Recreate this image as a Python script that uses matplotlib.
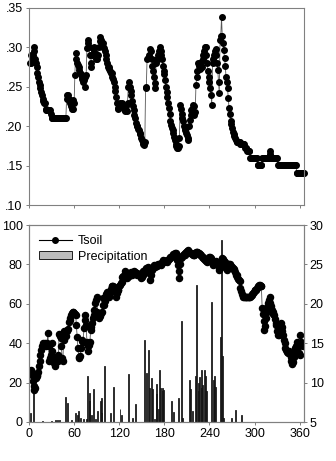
import matplotlib.pyplot as plt
import numpy as np
from matplotlib.patches import Patch
from matplotlib.lines import Line2D

plt.rcParams['font.family'] = ['Liberation Sans', 'DejaVu Sans']
plt.rcParams['font.size'] = 9

# day of year 1..365
days = np.arange(1, 366)

# soil water content (top panel), read per day
swc = [
    .280, .280, .290, .285, .290, .300, .295, .285, .280, .275,
    .268, .262, .256, .252, .248, .244, .240, .235, .232, .229,
    .229, .222, .220, .220, .220, .220, .220, .220, .215, .210,
    .210, .210, .210, .210, .210, .210, .210, .210, .210, .210,
    .210, .210, .210, .210, .210, .210, .210, .210, .210, .235,
    .240, .240, .235, .232, .229, .225, .222, .222, .233, .230,
    .265, .293, .285, .280, .278, .275, .271, .268, .266, .262,
    .260, .256, .258, .262, .250, .265, .299, .305, .309, .300,
    .290, .275, .280, .290, .299, .300, .295, .290, .285, .290,
    .285, .290, .300, .308, .313, .310, .306, .305, .300, .299,
    .295, .290, .285, .280, .275, .275, .272, .270, .268, .268,
    .262, .260, .256, .250, .245, .237, .229, .222, .223, .228,
    .230, .228, .230, .228, .225, .222, .219, .221, .226, .219,
    .230, .250, .256, .250, .245, .240, .232, .226, .220, .214,
    .210, .204, .200, .200, .197, .195, .192, .190, .185, .182,
    .180, .178, .176, .180, .248, .250, .285, .286, .288, .290,
    .298, .295, .285, .277, .270, .262, .255, .248, .280, .285,
    .290, .285, .295, .301, .295, .290, .285, .277, .270, .266,
    .258, .250, .244, .237, .230, .223, .215, .206, .202, .198,
    .195, .191, .186, .182, .178, .175, .172, .172, .175, .185,
    .227, .222, .215, .210, .206, .200, .198, .195, .191, .189,
    .185, .182, .200, .208, .214, .220, .222, .227, .225, .214,
    .218, .252, .262, .270, .280, .276, .272, .278, .282, .275,
    .285, .290, .295, .301, .300, .290, .280, .270, .262, .256,
    .248, .240, .227, .280, .285, .290, .295, .298, .290, .280,
    .271, .256, .242, .309, .315, .338, .314, .305, .297, .286,
    .277, .262, .256, .248, .236, .223, .215, .206, .203, .198,
    .193, .190, .187, .185, .182, .180, .180, .180, .180, .180,
    .177, .177, .177, .177, .177, .177, .172, .172, .172, .168,
    .168, .168, .168, .160, .160, .160, .160, .160, .160, .160,
    .160, .160, .160, .151, .151, .151, .151, .151, .151, .160,
    .160, .160, .160, .160, .160, .160, .160, .160, .160, .168,
    .165, .160, .160, .160, .160, .160, .160, .160, .160, .160,
    .151, .151, .151, .151, .151, .151, .151, .151, .151, .151,
    .151, .151, .151, .151, .151, .151, .151, .151, .151, .151,
    .151, .151, .151, .151, .151, .141, .141, .141, .141, .141,
    .141, .141, .141, .141, .141,
]

# soil temperature (right axis, bottom panel)
tsoil = [
    11.4, 11.5, 11.6, 11.0, 10.2, 9.6, 9.1, 9.3, 10.6, 10.8,
    11.0, 11.4, 12.1, 12.7, 13.5, 14.2, 14.6, 14.8, 15.0, 14.8,
    15.0, 14.9, 14.7, 15.0, 16.3, 14.7, 12.7, 13.1, 13.5, 14.0,
    15.0, 13.1, 12.5, 12.3, 12.1, 12.8, 13.1, 13.5, 12.7, 16.2,
    15.9, 15.6, 14.6, 13.1, 12.7, 15.4, 16.5, 16.0, 15.9, 16.5,
    16.7, 16.8, 17.7, 18.0, 18.2, 18.6, 18.8, 19.0, 18.9, 18.8,
    18.7, 18.6, 17.3, 15.8, 14.4, 13.3, 13.1, 13.4, 14.4, 15.4,
    15.3, 15.2, 16.9, 18.6, 18.0, 17.3, 15.2, 14.6, 14.0, 14.8,
    15.2, 16.7, 17.1, 17.6, 18.2, 18.6, 19.2, 20.1, 20.5, 20.9,
    19.0, 18.4, 18.2, 18.4, 18.6, 18.8, 19.0, 19.8, 20.7, 19.9,
    20.3, 20.9, 21.2, 21.5, 21.0, 20.9, 21.2, 21.6, 21.9, 22.2,
    22.2, 22.2, 22.1, 22.0, 21.5, 20.9, 21.4, 21.7, 21.8, 22.2,
    22.4, 22.6, 22.8, 23.4, 23.5, 23.3, 23.8, 24.1, 23.9, 23.3,
    23.7, 23.9, 23.5, 23.7, 24.0, 23.8, 23.6, 24.0, 24.1, 23.9,
    24.0, 23.8, 23.9, 23.7, 23.8, 23.7, 23.7, 23.6, 23.3, 23.4,
    23.7, 24.1, 24.2, 24.3, 24.4, 24.5, 24.4, 24.7, 24.6, 23.9,
    23.0, 23.6, 24.3, 24.6, 24.5, 24.9, 24.8, 24.7, 24.9, 24.8,
    24.9, 25.0, 25.1, 25.1, 24.9, 25.0, 25.3, 25.6, 25.4, 25.3,
    25.4, 25.4, 25.3, 25.5, 25.6, 25.7, 25.8, 25.9, 26.0, 26.1,
    26.2, 26.3, 26.1, 26.4, 26.4, 26.2, 25.5, 24.9, 23.3, 24.1,
    25.0, 25.8, 26.0, 26.1, 26.2, 26.3, 26.2, 26.5, 26.6, 26.7,
    26.8, 26.7, 26.6, 26.5, 26.4, 26.4, 26.3, 26.2, 26.2, 26.2,
    26.4, 26.6, 26.6, 26.6, 26.5, 26.4, 26.3, 26.2, 26.2, 26.0,
    26.0, 25.8, 25.7, 25.6, 25.5, 25.4, 25.3, 25.4, 25.7, 26.0,
    26.0, 25.8, 25.4, 25.0, 24.9, 25.1, 25.3, 25.4, 25.3, 25.2,
    25.0, 24.6, 24.3, 24.6, 25.2, 25.6, 25.8, 25.7, 25.4, 25.3,
    24.9, 24.5, 24.3, 24.6, 25.0, 25.1, 25.0, 24.8, 24.7, 24.7,
    24.5, 24.4, 24.3, 24.0, 23.7, 23.6, 23.4, 23.1, 23.0, 22.9,
    22.0, 21.6, 21.2, 21.0, 20.9, 20.9, 20.9, 20.9, 20.8, 20.9,
    20.9, 20.8, 20.9, 20.9, 21.0, 21.1, 21.2, 21.4, 21.5, 21.7,
    21.8, 21.8, 22.0, 22.1, 22.3, 22.4, 22.4, 22.3, 22.2, 19.5,
    18.7, 17.8, 16.7, 17.2, 18.2, 18.9, 19.6, 20.1, 20.5, 20.9,
    20.1, 19.7, 19.2, 19.0, 18.7, 18.6, 18.1, 17.6, 17.3, 16.5,
    16.1, 16.0, 16.2, 16.9, 17.6, 17.0, 16.5, 16.0, 15.4, 15.0,
    14.4, 14.2, 13.9, 13.7, 13.9, 14.0, 13.6, 13.3, 12.8, 12.3,
    12.6, 13.3, 13.8, 14.4, 14.6, 14.8, 15.2, 14.5, 13.8, 13.5,
    16.0, 15.2, 14.9, 14.6, 15.0,
]

# daily precipitation (left axis, bottom panel)
rain_days = [2, 6, 18, 30, 35, 38, 41, 49, 51, 56, 62, 64, 66, 68, 73, 76,
             78, 80, 81, 83, 86, 89, 91, 95, 96, 97, 101, 108, 112, 121, 123,
             132, 138, 142, 154, 156, 159, 160, 163, 164, 167, 169, 170, 172,
             174, 175, 177, 178, 179, 190, 192, 199, 203, 204, 213, 215, 217,
             221, 223, 225, 226, 227, 229, 230, 231, 234, 235, 236, 243, 245,
             246, 247, 248, 255, 256, 257, 258, 269, 274, 282]
rain_mm = [4.6, 18, 0.5, 0.5, 0.8, 1, 1, 12.5, 9.6, 1, 4.6, 3.7, 5.4, 2, 1.5, 1.5,
           23.6, 14.7, 10.5, 3.7, 16.9, 1.5, 5.4, 10.8, 12.2, 4.6, 28.2, 4.4, 17.6, 6.8, 3.7,
           24.5, 2, 9.1, 41.7, 25, 36.7, 17.2, 22.3, 16.6, 1.5, 19.4, 14, 6.8,
           26.3, 17.2, 17.2, 15.5, 16.4, 10.7, 5, 12, 51.2, 2, 21.5, 16.8, 5.4,
           23.1, 69.5, 15.5, 20, 22.6, 26.5, 17.2, 19, 26.5, 23.1, 15.5, 61, 21.5,
           19, 23.1, 18, 43.4, 92.4, 33.3, 2, 2, 6.2, 3.7]

xticks = [0, 60, 120, 180, 240, 300, 360]
swc_ticks = [0.10, 0.15, 0.20, 0.25, 0.30, 0.35]
swc_labels = ['.10', '.15', '.20', '.25', '.30', '.35']
rain_ticks = [0, 20, 40, 60, 80, 100]
t_ticks = [5, 10, 15, 20, 25, 30]

spine_c = '#808080'

fig = plt.figure(figsize=(3.36, 4.61), dpi=100)
W, H = 336, 461
ax1 = fig.add_axes([29/W, 1-205/H, (303.5-29)/W, (205-8)/H])
ax2 = fig.add_axes([29/W, 1-422/H, (303.5-29)/W, (422-225)/H])
ax3 = ax2.twinx()

# top panel
ax1.plot(days, swc, '-', color='#555555', lw=0.6, marker='o', ms=4,
         mfc='k', mec='k', clip_on=False)
ax1.set_xlim(0, 365)
ax1.set_ylim(0.10, 0.35)
ax1.set_xticks(xticks)
ax1.set_xticklabels([])
ax1.set_yticks(swc_ticks)
ax1.set_yticklabels(swc_labels)

# bottom panel
ax2.bar(rain_days, rain_mm, width=1.3, color='#a0a0a0', edgecolor='k', lw=0.55)
ax2.set_xlim(0, 365)
ax2.set_ylim(0, 100)
ax2.set_xticks(xticks)
ax2.set_yticks(rain_ticks)

ax3.plot(days, tsoil, '-', color='#555555', lw=0.6, marker='o', ms=4.4,
         mfc='k', mec='k')
ax3.set_ylim(5, 30)
ax3.set_yticks(t_ticks)

for a in (ax1, ax2, ax3):
    for s in a.spines.values():
        s.set_color(spine_c)
        s.set_linewidth(0.8)
    a.tick_params(direction='out', length=2.5, width=0.7, color=spine_c,
                  labelcolor='k', labelsize=9, pad=2)

handles = [Line2D([], [], color='k', lw=0.8, marker='o', ms=4),
           Patch(facecolor='#bdbdbd', edgecolor='k', lw=0.6)]
ax2.legend(handles, ['Tsoil', 'Precipitation'], loc='upper left',
           frameon=False, fontsize=9, handlelength=2.6, handleheight=0.6,
           labelspacing=0.3, borderaxespad=0.4, handletextpad=0.5)

fig.savefig('out.png', dpi=100)
